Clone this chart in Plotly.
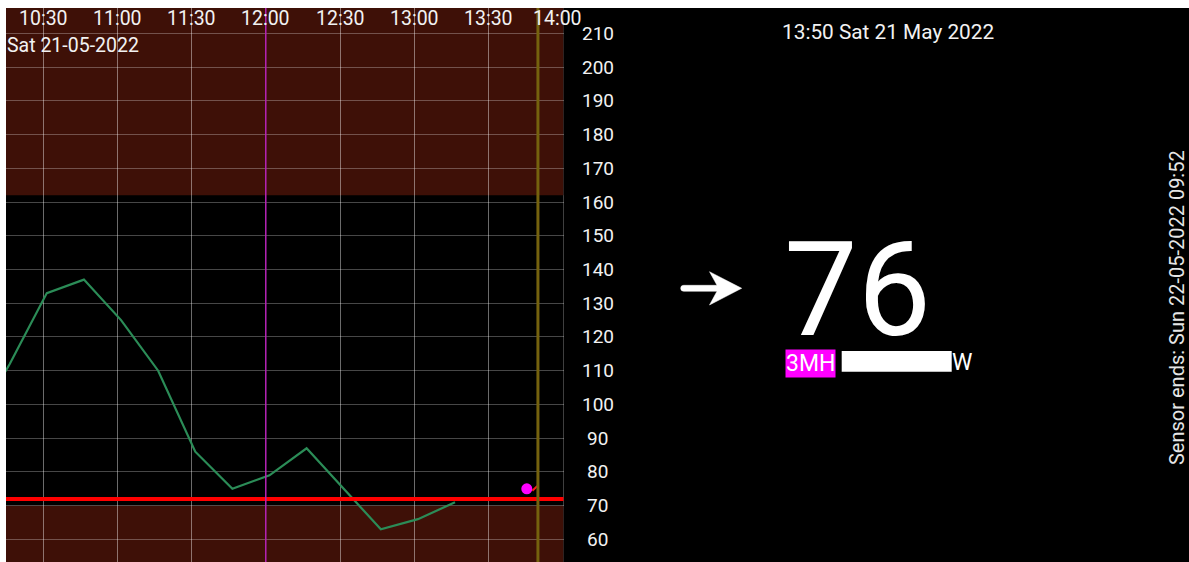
import plotly.graph_objects as go

# ---------------- data ----------------
times = ["2022-05-21 10:01:30", "2022-05-21 10:16:30", "2022-05-21 10:31:30", "2022-05-21 10:46:30",
         "2022-05-21 11:01:30", "2022-05-21 11:16:30", "2022-05-21 11:31:30", "2022-05-21 11:46:30",
         "2022-05-21 12:01:30", "2022-05-21 12:16:30", "2022-05-21 12:31:30", "2022-05-21 12:46:30",
         "2022-05-21 13:01:30", "2022-05-21 13:16:30"]
glucose = [93, 112, 133, 137, 125, 110, 86, 75, 79, 87, 75, 63, 66, 71]

current_time = ["2022-05-21 13:45:30"]
current_value = [75]
trend_times = ["2022-05-21 13:47:45", "2022-05-21 13:49:45"]
trend_values = [74.4, 75.8]

x_tick_vals = ["2022-05-21 10:30", "2022-05-21 11:00", "2022-05-21 11:30", "2022-05-21 12:00",
               "2022-05-21 12:30", "2022-05-21 13:00", "2022-05-21 13:30", "2022-05-21 14:00"]
x_tick_text = ["10:30", "11:00", "11:30", "12:00", "12:30", "13:00", "13:30", "14:00"]
y_tick_vals = [60, 70, 80, 90, 100, 110, 120, 130, 140, 150, 160, 170, 180, 190, 200, 210]

x_range = ["2022-05-21 10:15:00", "2022-05-21 14:00:20"]
y_range = [53.3, 217.5]
high_limit = 162
low_limit = 70
low_alarm = 72
midday_marker = "2022-05-21 12:00"
now_marker = "2022-05-21 13:50"

date_label = "Sat 21-05-2022"
header_text = "13:50 Sat 21 May 2022"
reading_text = "76"
badge_text = "3MH"
badge_tail = "W"
sensor_text = "Sensor ends: Sun 22-05-2022 09:52"

# ---------------- styling ----------------
FONT = "Roboto"
TXT = "#f2f2f2"
BAND = "#3e1007"
OFF_L, OFF_T = 6, 8          # page offset of the figure (white strips)
W, H = 1189 - OFF_L, 562 - OFF_T
CHART_R = 557.5 / W


def px_x(px):
    return (px - OFF_L) / W


def px_y(py):
    return 1 - (py - OFF_T) / H


fig = go.Figure()

fig.add_trace(go.Scatter(x=times, y=glucose, mode="lines",
                         line=dict(color="#2b8c57", width=2.2), hoverinfo="skip"))
fig.add_hline(y=low_alarm, line=dict(color="#ff0000", width=4), layer="above")
fig.add_vline(x=midday_marker, line=dict(color="#b321b3", width=1.5), layer="above")
fig.add_vline(x=now_marker, line=dict(color="#75620e", width=3), layer="above")
fig.add_trace(go.Scatter(x=trend_times, y=trend_values, mode="lines",
                         line=dict(color="#ff1a1a", width=2), hoverinfo="skip"))
fig.add_trace(go.Scatter(x=current_time, y=current_value, mode="markers",
                         marker=dict(color="#ff00ff", size=11, line=dict(width=0)), hoverinfo="skip"))

# coloured bands
fig.add_hrect(y0=high_limit, y1=y_range[1], fillcolor=BAND, line_width=0, layer="below")
fig.add_hrect(y0=y_range[0], y1=low_limit, fillcolor=BAND, line_width=0, layer="below")

# black right panel
fig.add_shape(type="rect", xref="paper", yref="paper", x0=CHART_R, x1=1, y0=0, y1=1,
              fillcolor="#000000", line_width=0, layer="below")

# trend arrow glyph (decoration)
arrow_pts = [(683.7, 285.3), (717, 285.3), (709.5, 271.7), (741.7, 288.3),
             (709.5, 305), (717, 291.3), (683.7, 291.3)]
p = "M{:.5f},{:.5f}".format(px_x(arrow_pts[0][0]), px_y(arrow_pts[0][1]))
for ax_, ay_ in arrow_pts[1:]:
    p += " L{:.5f},{:.5f}".format(px_x(ax_), px_y(ay_))
p += " Q{:.5f},{:.5f} {:.5f},{:.5f}".format(px_x(680.7), px_y(291.3), px_x(680.7), px_y(288.3))
p += " Q{:.5f},{:.5f} {:.5f},{:.5f} Z".format(px_x(680.7), px_y(285.3), px_x(683.7), px_y(285.3))
fig.add_shape(type="path", xref="paper", yref="paper", path=p, fillcolor="#ffffff",
              line=dict(color="#ffffff", width=0.5), layer="above")

annotations = []
# x tick labels (inside top)
for v, t in zip(x_tick_vals, x_tick_text):
    annotations.append(dict(x=v, xref="x", y=px_y(19), yref="paper", text=t, showarrow=False,
                            xanchor="center", yanchor="middle",
                            xshift=-5 if t == "14:00" else 0,
                            font=dict(family=FONT, size=19.5, color=TXT)))
# y tick labels (centered, right of chart)
for v in y_tick_vals:
    annotations.append(dict(x=px_x(597.5), xref="paper", y=v, yref="y", text=str(v), showarrow=False,
                            xanchor="center", yanchor="middle",
                            font=dict(family=FONT, size=19, color=TXT)))
annotations.append(dict(x=0, xref="paper", y=px_y(45), yref="paper", text=date_label, showarrow=False,
                        xanchor="left", yanchor="middle", xshift=-1,
                        font=dict(family=FONT, size=19.5, color=TXT)))
annotations.append(dict(x=px_x(888), xref="paper", y=px_y(32), yref="paper", text=header_text,
                        showarrow=False, xanchor="center", yanchor="middle",
                        font=dict(family=FONT, size=20.8, color=TXT)))
annotations.append(dict(x=px_x(857.5), xref="paper", y=px_y(290), yref="paper", text=reading_text,
                        showarrow=False, xanchor="center", yanchor="middle", height=108,
                        valign="middle", font=dict(family=FONT, size=131, color="#ffffff")))
annotations.append(dict(x=px_x(810), xref="paper", y=px_y(363), yref="paper", text=badge_text,
                        showarrow=False, xanchor="center", yanchor="middle", bgcolor="#ff00ff",
                        borderpad=0, font=dict(family=FONT, size=23, color="#ffffff")))
annotations.append(dict(x=px_x(951.7), xref="paper", y=px_y(362), yref="paper", text=badge_tail,
                        showarrow=False, xanchor="left", yanchor="middle", xshift=-2,
                        font=dict(family=FONT, size=23, color="#ffffff")))
annotations.append(dict(x=px_x(1177), xref="paper", y=px_y(308), yref="paper", text=sensor_text,
                        showarrow=False, textangle=-90, xanchor="center", yanchor="middle",
                        font=dict(family=FONT, size=20, color="#e6e6e6")))

# redaction block
fig.add_shape(type="rect", xref="paper", yref="paper", x0=px_x(841.7), x1=px_x(951.7),
              y0=px_y(371.7), y1=px_y(351), fillcolor="#ffffff", line_width=0, layer="above")

fig.update_layout(
    width=W, height=H,
    margin=dict(l=0, r=0, t=0, b=0, pad=0),
    paper_bgcolor="#ffffff",
    plot_bgcolor="#000000",
    showlegend=False,
    annotations=annotations,
    xaxis=dict(domain=[0, CHART_R], range=x_range, type="date", tickvals=x_tick_vals,
               showticklabels=False, ticks="", showgrid=True, gridcolor="rgba(255,255,255,0.42)",
               gridwidth=1, zeroline=False, showline=False, fixedrange=True),
    yaxis=dict(range=y_range, tickvals=y_tick_vals, showticklabels=False, ticks="",
               showgrid=True, gridcolor="rgba(255,255,255,0.28)", gridwidth=1,
               zeroline=False, showline=False, fixedrange=True),
)

fig.write_html("out.html", config={"displayModeBar": False},
               post_script="document.body.style.margin='8px 0 0 6px';")
